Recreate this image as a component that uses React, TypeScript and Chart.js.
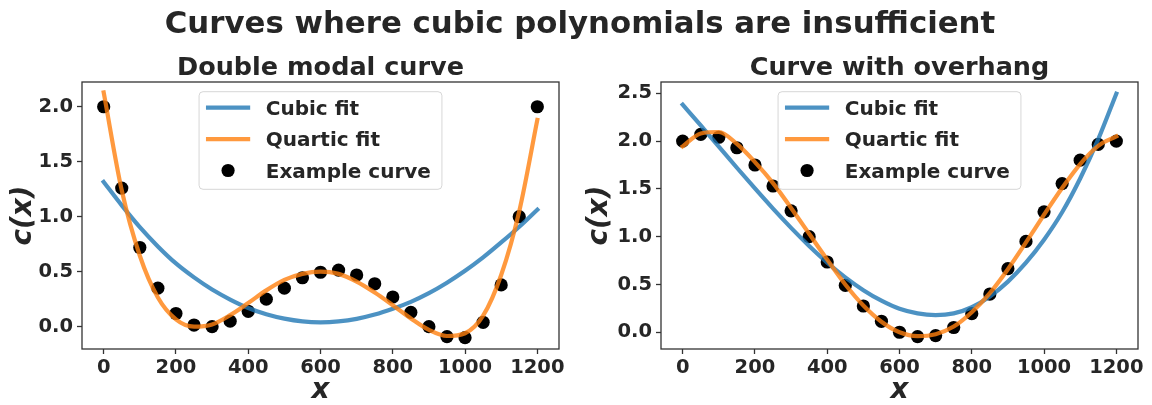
import { useEffect, useRef } from "react";
import { Chart, registerables } from "chart.js";

Chart.register(...registerables);

const FONT = "'DejaVu Sans', sans-serif";
const TEXT = "#262626";
const SPINE = "#333333";
const BLUE = "rgba(31, 119, 180, 0.8)";
const ORANGE = "rgba(255, 127, 14, 0.8)";

const suptitle = "Curves where cubic polynomials are insufficient";
const legendLabels = ["Cubic fit", "Quartic fit", "Example curve"];

// shared sample positions along x
const xSamples = [
  0, 50, 100, 150, 200, 250, 300, 350, 400, 450, 500, 550, 600,
  650, 700, 750, 800, 850, 900, 950, 1000, 1050, 1100, 1150, 1200,
];
const xTicks = [0, 200, 400, 600, 800, 1000, 1200];

// left panel: double modal curve
const modalTitle = "Double modal curve";
const modalExample = [
  2.0, 1.26, 0.72, 0.35, 0.12, 0.015, 0.0, 0.05, 0.14, 0.25, 0.35, 0.445, 0.495,
  0.515, 0.47, 0.39, 0.27, 0.13, 0.0, -0.09, -0.1, 0.04, 0.38, 1.0, 2.0,
];
const modalCubic = [
  1.316, 1.103, 0.905, 0.73, 0.575, 0.448, 0.338, 0.247, 0.17, 0.113, 0.073, 0.048, 0.04,
  0.048, 0.071, 0.11, 0.163, 0.226, 0.305, 0.4, 0.508, 0.63, 0.766, 0.909, 1.064,
];
const modalQuartic = [
  2.13, 1.24, 0.645, 0.265, 0.066, 0.0, 0.02, 0.105, 0.215, 0.33, 0.425, 0.48, 0.5,
  0.48, 0.41, 0.31, 0.195, 0.075, -0.03, -0.085, -0.06, 0.1, 0.47, 1.05, 1.88,
];
const modalYTicks = [0, 0.5, 1.0, 1.5, 2.0];

// right panel: curve with overhang
const overhangTitle = "Curve with overhang";
const overhangExample = [
  2.0, 2.07, 2.04, 1.93, 1.75, 1.53, 1.27, 1.0, 0.735, 0.49, 0.275, 0.115, 0.0,
  -0.045, -0.035, 0.05, 0.195, 0.4, 0.665, 0.95, 1.26, 1.555, 1.8, 1.965, 2.0,
];
const overhangCubic = [
  2.381, 2.163, 1.942, 1.721, 1.504, 1.293, 1.092, 0.903, 0.729, 0.574, 0.44, 0.33, 0.245,
  0.197, 0.18, 0.198, 0.262, 0.375, 0.53, 0.728, 0.968, 1.255, 1.608, 2.02, 2.496,
];
const overhangQuartic = [
  1.945, 2.08, 2.095, 1.97, 1.78, 1.56, 1.3, 1.03, 0.76, 0.5, 0.28, 0.11, 0.0,
  -0.04, -0.02, 0.06, 0.21, 0.41, 0.66, 0.94, 1.23, 1.51, 1.76, 1.95, 2.05,
];
const overhangYTicks = [0, 0.5, 1.0, 1.5, 2.0, 2.5];

const toPoints = (ys: number[]) => xSamples.map((x, i) => ({ x, y: ys[i] }));

// frame, panel title and in-axes legend
function panelDecor(title: string) {
  return {
    id: "panelDecor",
    afterDatasetsDraw(chart: any) {
      const { ctx, chartArea: a } = chart;
      ctx.save();
      ctx.strokeStyle = SPINE;
      ctx.lineWidth = 1.3;
      ctx.strokeRect(a.left, a.top, a.right - a.left, a.bottom - a.top);

      ctx.fillStyle = TEXT;
      ctx.font = `bold 25.5px ${FONT}`;
      ctx.textAlign = "center";
      ctx.textBaseline = "alphabetic";
      ctx.fillText(title, (a.left + a.right) / 2, a.top - 7);

      ctx.font = `bold 20px ${FONT}`;
      ctx.textAlign = "left";
      const textLeft = 66.7;
      const maxW = Math.max(...legendLabels.map((t) => ctx.measureText(t).width));
      const boxW = textLeft + maxW + 11;
      const boxH = 97.6;
      const boxX = (a.left + a.right) / 2 - boxW / 2;
      const boxY = a.top + 9.7;
      ctx.beginPath();
      ctx.roundRect(boxX, boxY, boxW, boxH, 4);
      ctx.fillStyle = "rgba(255,255,255,0.8)";
      ctx.fill();
      ctx.strokeStyle = "rgba(204,204,204,0.8)";
      ctx.lineWidth = 1;
      ctx.stroke();

      legendLabels.forEach((label, i) => {
        const cy = boxY + 16 + i * 31.4;
        if (i < 2) {
          ctx.beginPath();
          ctx.strokeStyle = i === 0 ? BLUE : ORANGE;
          ctx.lineWidth = 4.2;
          ctx.lineCap = "square";
          ctx.moveTo(boxX + 9, cy);
          ctx.lineTo(boxX + 49, cy);
          ctx.stroke();
        } else {
          ctx.beginPath();
          ctx.fillStyle = "#000";
          ctx.arc(boxX + 29, cy, 6.6, 0, Math.PI * 2);
          ctx.fill();
        }
        ctx.fillStyle = TEXT;
        ctx.fillText(label, boxX + textLeft, cy + 7);
      });
      ctx.restore();
    },
  };
}

type PanelProps = {
  title: string;
  example: number[];
  cubic: number[];
  quartic: number[];
  yMin: number;
  yMax: number;
  yTicks: number[];
  yAxisWidth: number;
  padRight: number;
  left: number;
};

function Panel(p: PanelProps) {
  const ref = useRef<HTMLCanvasElement>(null);
  useEffect(() => {
    if (!ref.current) return;
    const lineDs = (label: string, ys: number[], color: string, order: number) => ({
      type: "line" as const,
      label,
      data: toPoints(ys),
      borderColor: color,
      backgroundColor: color,
      borderWidth: 4.2,
      borderCapStyle: "square" as const,
      pointRadius: 0,
      cubicInterpolationMode: "monotone" as const,
      fill: false,
      order,
    });
    const chart = new Chart(ref.current, {
      type: "line",
      data: {
        datasets: [
          lineDs(legendLabels[0], p.cubic, BLUE, 1),
          lineDs(legendLabels[1], p.quartic, ORANGE, 0),
          {
            type: "scatter" as const,
            label: legendLabels[2],
            data: toPoints(p.example),
            pointRadius: 6.6,
            pointHoverRadius: 6.6,
            backgroundColor: "#000",
            borderWidth: 0,
            showLine: false,
            order: 2,
          } as any,
        ],
      },
      options: {
        responsive: false,
        animation: false,
        events: [],
        layout: { padding: { left: 0, right: p.padRight, top: 82, bottom: 0 } },
        plugins: { legend: { display: false }, tooltip: { enabled: false }, title: { display: false } },
        scales: {
          x: {
            type: "linear",
            min: -60,
            max: 1260,
            afterBuildTicks: (s: any) => {
              s.ticks = xTicks.map((v) => ({ value: v }));
            },
            afterFit: (s: any) => {
              s.height = 56;
            },
            ticks: {
              callback: (v: any) => String(v),
              font: { family: FONT, size: 19.5, weight: "bold" },
              color: TEXT,
              padding: 2,
              maxRotation: 0,
            },
            grid: { drawOnChartArea: false, tickLength: 5, tickColor: SPINE, tickWidth: 1.3 },
            border: { display: false },
            title: {
              display: true,
              text: "x",
              color: TEXT,
              font: { family: FONT, size: 27.8, weight: "bold", style: "italic", lineHeight: 1 },
              padding: { top: 0, bottom: 0 },
            },
          },
          y: {
            type: "linear",
            min: p.yMin,
            max: p.yMax,
            afterBuildTicks: (s: any) => {
              s.ticks = p.yTicks.map((v) => ({ value: v }));
            },
            afterFit: (s: any) => {
              s.width = p.yAxisWidth;
            },
            ticks: {
              callback: (v: any) => Number(v).toFixed(1),
              font: { family: FONT, size: 19.5, weight: "bold" },
              color: TEXT,
              padding: 4,
            },
            grid: { drawOnChartArea: false, tickLength: 5, tickColor: SPINE, tickWidth: 1.3 },
            border: { display: false },
            title: {
              display: true,
              text: "c(x)",
              color: TEXT,
              font: { family: FONT, size: 27.8, weight: "bold", style: "italic", lineHeight: 1 },
              padding: { top: 10, bottom: 0 },
            },
          },
        },
      } as any,
      plugins: [panelDecor(p.title)],
    });
    return () => chart.destroy();
  }, []);
  return (
    <canvas
      ref={ref}
      width={576}
      height={405}
      style={{ position: "absolute", left: p.left, top: 0, width: 576, height: 405, display: "block" }}
    />
  );
}

export default function App() {
  return (
    <div style={{ position: "absolute", left: 0, top: 0, width: 1152, height: 405, background: "#fff" }}>
      <Panel
        title={modalTitle}
        example={modalExample}
        cubic={modalCubic}
        quartic={modalQuartic}
        yMin={-0.203}
        yMax={2.225}
        yTicks={modalYTicks}
        yAxisWidth={82}
        padRight={17}
        left={0}
      />
      <Panel
        title={overhangTitle}
        example={overhangExample}
        cubic={overhangCubic}
        quartic={overhangQuartic}
        yMin={-0.175}
        yMax={2.618}
        yTicks={overhangYTicks}
        yAxisWidth={85}
        padRight={14}
        left={576}
      />
      <div
        style={{
          position: "absolute",
          left: 4,
          top: 7,
          width: 1152,
          textAlign: "center",
          fontFamily: FONT,
          fontWeight: "bold",
          fontSize: 30.8,
          lineHeight: "30px",
          color: TEXT,
          whiteSpace: "nowrap",
        }}
      >
        {suptitle}
      </div>
    </div>
  );
}
